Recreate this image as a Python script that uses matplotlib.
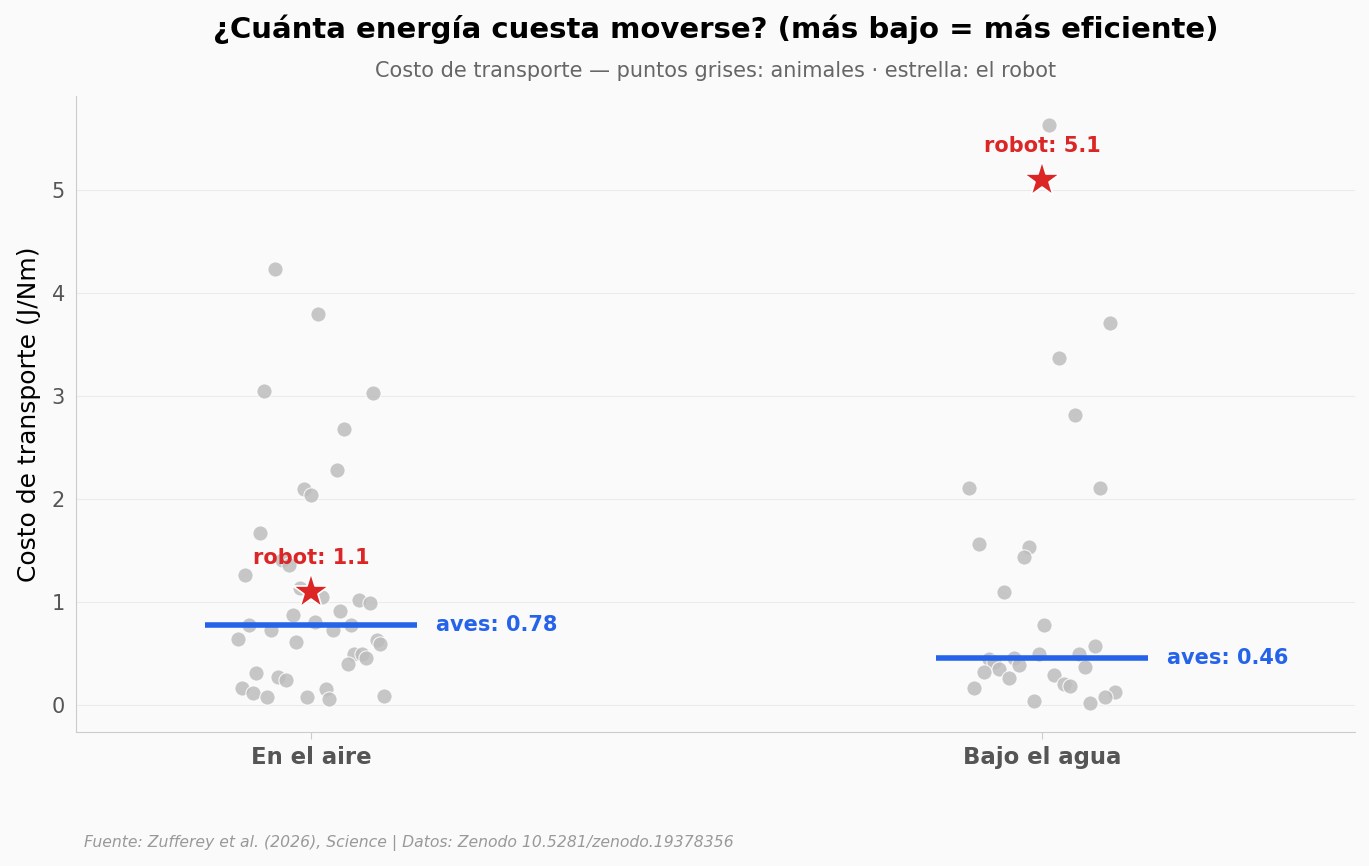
import numpy as np
import matplotlib
matplotlib.use("Agg")
import matplotlib.pyplot as plt

# Data
categories = ["En el aire", "Bajo el agua"]

aire_vals = [4.23, 3.79, 3.05, 3.03, 2.68, 2.28, 2.10, 2.04, 1.67, 1.26, 1.41,
             1.36, 1.14, 1.05, 1.02, 0.99, 0.91, 0.87, 0.81, 0.78, 0.78, 0.73,
             0.73, 0.64, 0.63, 0.61, 0.59, 0.50, 0.50, 0.46, 0.40, 0.31, 0.27,
             0.24, 0.17, 0.16, 0.12, 0.08, 0.08, 0.09, 0.06]
aire_jitter = [-0.049, 0.010, -0.064, 0.085, 0.045, 0.036, -0.010, 0.000,
               -0.070, -0.090, -0.040, -0.030, -0.015, 0.015, 0.066, 0.081,
               0.040, -0.025, 0.005, -0.085, 0.055, -0.055, 0.030, -0.100,
               0.090, -0.021, 0.094, 0.059, 0.070, 0.075, 0.051, -0.075,
               -0.045, -0.034, -0.094, 0.021, -0.079, -0.060, -0.005, 0.100,
               0.025]

agua_vals = [5.63, 3.71, 3.37, 2.81, 2.11, 2.11, 1.56, 1.53, 1.44, 1.10, 0.78,
             0.57, 0.50, 0.50, 0.45, 0.46, 0.42, 0.39, 0.35, 0.37, 0.32, 0.29,
             0.26, 0.20, 0.18, 0.17, 0.13, 0.08, 0.04, 0.02]
agua_jitter = [0.010, 0.093, 0.023, 0.045, -0.100, 0.079, -0.086, -0.018,
               -0.025, -0.052, 0.003, 0.072, -0.004, 0.051, -0.072, -0.038,
               -0.066, -0.031, -0.059, 0.059, -0.079, 0.016, -0.045, 0.030,
               0.038, -0.093, 0.100, 0.086, -0.011, 0.066]

aves_median = [0.78, 0.46]
robot_cot = [1.1, 5.1]

bg = "#fafafa"
blue = "#2563eb"
red = "#dc2626"

fig = plt.figure(figsize=(13.69, 8.66), dpi=100, facecolor=bg)
ax = fig.add_axes([0.0555, 0.1547, 0.9343, 0.7344], facecolor=bg)

for i, (vals, jit) in enumerate([(aire_vals, aire_jitter), (agua_vals, agua_jitter)]):
    ax.scatter(np.array(jit) + i, vals, s=120, color="#bdbdbd", alpha=0.85,
               edgecolor="white", linewidth=0.8, zorder=2)
    ax.plot([i - 0.145, i + 0.145], [aves_median[i]] * 2, color=blue, lw=4,
            solid_capstyle="butt", zorder=3)
    ax.text(i + 0.171, aves_median[i], f"aves: {aves_median[i]:.2f}", color=blue,
            fontsize=15, fontweight="bold", va="center", ha="left")
    ax.plot(i, robot_cot[i], marker="*", markersize=27, color=red,
            markeredgecolor="white", markeredgewidth=1.2, zorder=4)
    ax.text(i, robot_cot[i] + 0.33, f"robot: {robot_cot[i]:.1f}", color=red,
            fontsize=15, fontweight="bold", ha="center", va="center", zorder=5)

ax.set_xlim(-0.3215, 1.428)
ax.set_ylim(-0.262, 5.91)
ax.set_xticks([0, 1])
ax.set_xticklabels(categories, fontsize=16.4, fontweight="bold", color="#555555")
ax.set_yticks([0, 1, 2, 3, 4, 5])
ax.tick_params(axis="y", labelsize=15, labelcolor="#555555", length=0, pad=8)
ax.tick_params(axis="x", length=5, color="#cccccc", pad=5)
ax.grid(axis="y", color="#ebebeb", lw=0.8)
ax.set_axisbelow(True)
for s in ["top", "right"]:
    ax.spines[s].set_visible(False)
for s in ["left", "bottom"]:
    ax.spines[s].set_color("#cccccc")

ax.set_ylabel("Costo de transporte (J/Nm)", fontsize=18, labelpad=8)

# titles centred over the plot area
cx = 0.0555 + 0.9343 / 2
fig.text(cx, 0.966, "¿Cuánta energía cuesta moverse? (más bajo = más eficiente)",
         ha="center", va="center", fontsize=21, fontweight="bold")
fig.text(cx, 0.918, "Costo de transporte — puntos grises: animales · estrella: el robot",
         ha="center", va="center", fontsize=15, color="#666666")
fig.text(0.061, 0.026, "Fuente: Zufferey et al. (2026), Science | Datos: Zenodo 10.5281/zenodo.19378356",
         ha="left", va="center", fontsize=11.25, style="italic", color="#999999")

fig.savefig("out.png", dpi=100, facecolor=bg)
